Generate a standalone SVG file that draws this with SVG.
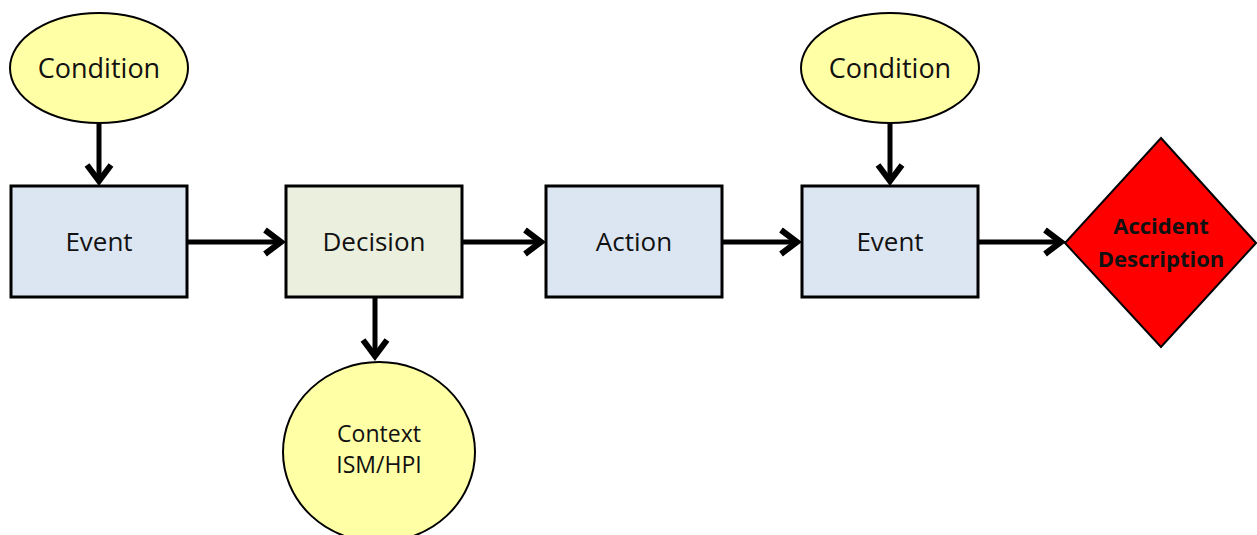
<svg xmlns="http://www.w3.org/2000/svg" width="1257" height="535" viewBox="0 0 1257 535">
<style>
.cond{fill:#FFFFA6;stroke:#000;stroke-width:2}
.ev{fill:#DCE6F2;stroke:#000;stroke-width:3}
.dec{fill:#EBF0DE;stroke:#000;stroke-width:3}
.acc{fill:#FF0000;stroke:#000;stroke-width:2}
text{font-family:"Open Sans","Noto Sans","Liberation Sans",sans-serif;fill:#111;text-anchor:middle}
.big{font-size:27px}
.mid{font-size:26px}
.small{font-size:23px}
.bold{font-size:22px;font-weight:bold}
.conn line{stroke:#000;stroke-width:5}
</style>
<defs>
<marker id="ah" markerUnits="userSpaceOnUse" markerWidth="34" markerHeight="34" viewBox="-22 -17 26 34" refX="0" refY="0" orient="auto">
<path d="M-16,-12 L0,0 L-16,12" fill="none" stroke="#000" stroke-width="6" stroke-linejoin="miter"/>
</marker>
</defs>
<g class="conn">
<line x1="99" y1="124" x2="99" y2="181" marker-end="url(#ah)"/>
<line x1="188" y1="242" x2="281" y2="242" marker-end="url(#ah)"/>
<line x1="375" y1="298" x2="375" y2="356" marker-end="url(#ah)"/>
<line x1="463" y1="242" x2="541" y2="242" marker-end="url(#ah)"/>
<line x1="723" y1="242" x2="797" y2="242" marker-end="url(#ah)"/>
<line x1="890" y1="124" x2="890" y2="181" marker-end="url(#ah)"/>
<line x1="979" y1="242" x2="1061" y2="242" marker-end="url(#ah)"/>
</g>
<g id="condition1">
<ellipse class="cond" cx="99" cy="68" rx="89" ry="55"/>
<text class="big" x="99" y="78">Condition</text>
</g>
<g id="event1">
<rect class="ev" x="11" y="186" width="176" height="111"/>
<text class="mid" x="99" y="251">Event</text>
</g>
<g id="decision">
<rect class="dec" x="286" y="186" width="176" height="111"/>
<text class="mid" x="374" y="251">Decision</text>
</g>
<g id="context">
<ellipse class="cond" cx="379" cy="452" rx="96" ry="90"/>
<text class="small" x="379" y="442">Context</text>
<text class="small" x="379" y="473">ISM/HPI</text>
</g>
<g id="action">
<rect class="ev" x="546" y="186" width="176" height="111"/>
<text class="mid" x="634" y="251">Action</text>
</g>
<g id="condition2">
<ellipse class="cond" cx="890" cy="68" rx="89" ry="55"/>
<text class="big" x="890" y="78">Condition</text>
</g>
<g id="event2">
<rect class="ev" x="802" y="186" width="176" height="111"/>
<text class="mid" x="890" y="251">Event</text>
</g>
<g id="accident">
<polygon class="acc" points="1161,138 1256,243 1161,347 1065,243"/>
<text class="bold" x="1161" y="234">Accident</text>
<text class="bold" x="1161" y="267">Description</text>
</g>
</svg>
